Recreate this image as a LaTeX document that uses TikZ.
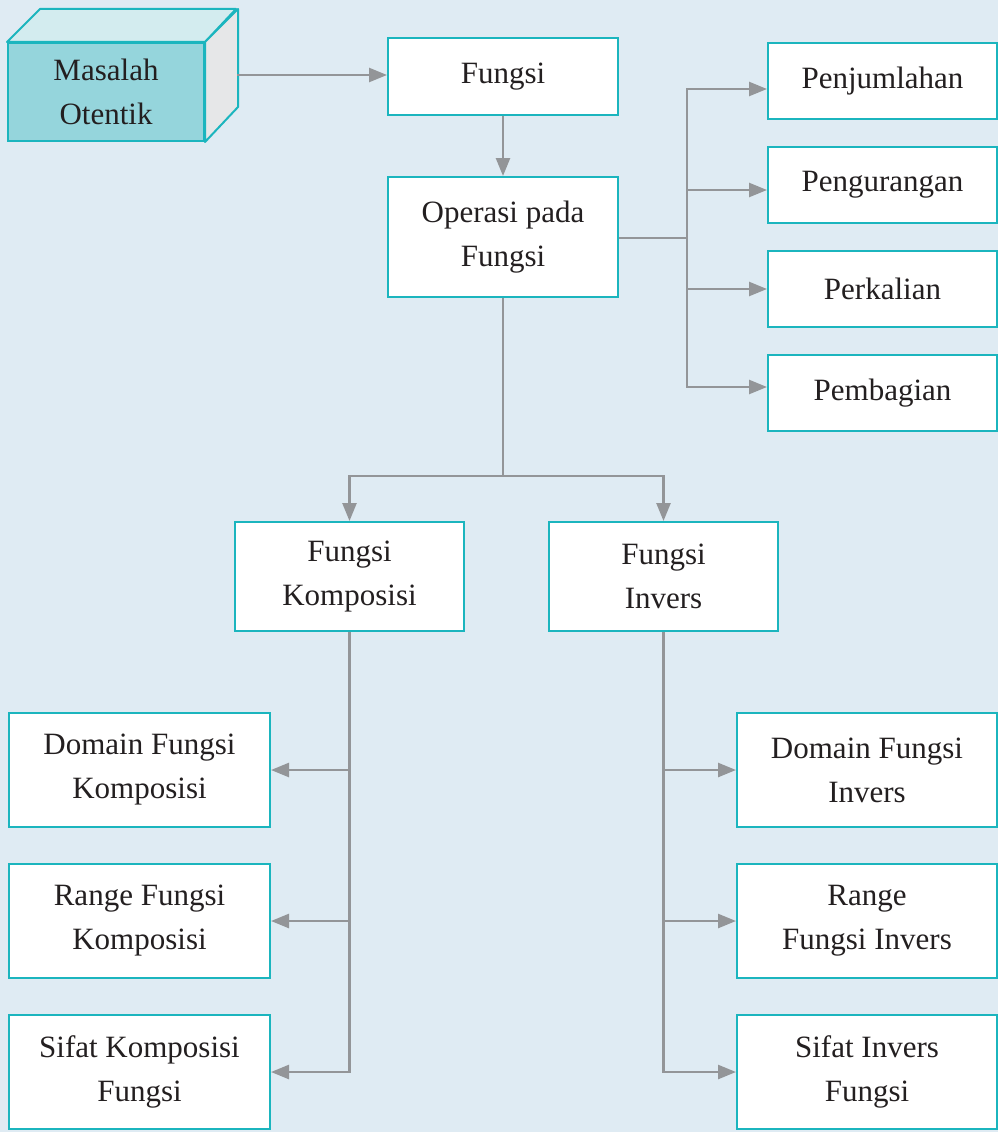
\documentclass[tikz,border=0pt]{standalone}
\usepackage{fontspec}
\setmainfont{Liberation Serif}
\usetikzlibrary{arrows.meta}
\definecolor{bgblue}{HTML}{DFEBF3}
\definecolor{tealline}{HTML}{1BB5BE}
\definecolor{linegray}{HTML}{939598}
\definecolor{cubefront}{HTML}{95D5DC}
\definecolor{cubetop}{HTML}{D3ECEF}
\definecolor{cubeside}{HTML}{E6E7E8}
\definecolor{textdark}{HTML}{231F20}
\tikzset{
  box/.style={draw=tealline, line width=2pt, fill=white, align=center, text=textdark, inner sep=0pt, font=\fontsize{31}{44}\selectfont},
  link/.style={draw=linegray, line width=2.5pt},
  arr/.style={link, -{Triangle[length=18pt,width=14pt]}},
}
\begin{document}
\begin{tikzpicture}[x=1pt,y=-1pt]
	\fill[bgblue] (0,0) rectangle (998,1132);
	\useasboundingbox (0,0) rectangle (998,1132);

	% cube
	\node[box, fill=cubefront, minimum width=196pt, minimum height=98pt] (masalah) at (106,92) {Masalah\\Otentik};
	\draw[tealline, line width=2pt, fill=cubetop, line join=round] (masalah.north west) -- ++(33pt,33pt) -- ++(196pt,0pt) -- (masalah.north east) -- cycle;
	\draw[tealline, line width=2pt, fill=cubeside, line join=round] (masalah.north east) -- ++(33pt,33pt) -- ++(0pt,-98pt) -- (masalah.south east) -- cycle;
	\coordinate (cubeR) at (237,75);

	\node[box, minimum width=230pt, minimum height=77pt] (fungsi) at (503,76.5) {Fungsi};
	\node[box, minimum width=230pt, minimum height=120pt] (operasi) at (503,237) {Operasi pada\\Fungsi};

	\node[box, minimum width=229pt, minimum height=76pt] (pj) at (882.5,81) {Penjumlahan};
	\node[box, minimum width=229pt, minimum height=76pt] (pk) at (882.5,185) {Pengurangan};
	\node[box, minimum width=229pt, minimum height=76pt] (pkl) at (882.5,289) {Perkalian};
	\node[box, minimum width=229pt, minimum height=76pt] (pb) at (882.5,393) {Pembagian};

	\node[box, minimum width=229pt, minimum height=109pt] (komp) at (349.5,576.5) {Fungsi\\Komposisi};
	\node[box, minimum width=229pt, minimum height=109pt] (inv) at (663.5,576.5) {Fungsi\\Invers};

	\node[box, minimum width=261pt, minimum height=114pt] (domk) at (139.5,770) {Domain Fungsi\\Komposisi};
	\node[box, minimum width=261pt, minimum height=114pt] (rngk) at (139.5,921) {Range Fungsi\\Komposisi};
	\node[box, minimum width=261pt, minimum height=114pt] (sifk) at (139.5,1072) {Sifat Komposisi\\Fungsi};

	\node[box, minimum width=260pt, minimum height=114pt] (domi) at (867,770) {Domain Fungsi\\Invers};
	\node[box, minimum width=260pt, minimum height=114pt] (rngi) at (867,921) {Range\\Fungsi Invers};
	\node[box, minimum width=260pt, minimum height=114pt] (sifi) at (867,1072) {Sifat Invers\\Fungsi};

	% connectors
	\draw[arr] (cubeR) -- (fungsi.west |- cubeR);
	\draw[arr] (fungsi.south) -- (operasi.north);

	\coordinate (busR) at (687,238);
	\draw[link] (operasi.east |- busR) -- (busR);
	\draw[arr] (busR) |- ([yshift=-8pt]pj.west);
	\draw[arr] (busR) |- ([yshift=-5pt]pk.west);
	\draw[arr] (busR) |- (pkl.west);
	\draw[arr] (busR) |- ([yshift=6pt]pb.west);

	\coordinate (split) at (503,476);
	\draw[link] (operasi.south) -- (split);
	\draw[arr] (split) -| (komp.north);
	\draw[arr] (split) -| (inv.north);

	\draw[arr] (komp.south) |- (domk.east);
	\draw[arr] (komp.south) |- (rngk.east);
	\draw[arr] (komp.south) |- (sifk.east);

	\draw[arr] (inv.south) |- (domi.west);
	\draw[arr] (inv.south) |- (rngi.west);
	\draw[arr] (inv.south) |- (sifi.west);
\end{tikzpicture}
\end{document}
